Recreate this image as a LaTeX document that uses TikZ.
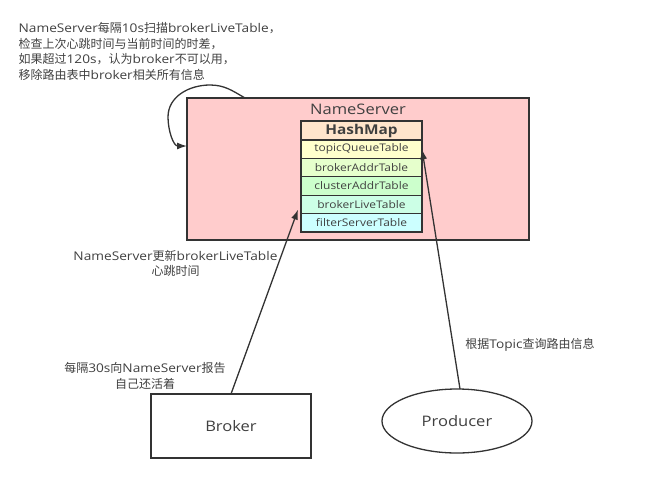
\documentclass[tikz,border=0pt]{standalone}
\usepackage{fontspec}
\setmainfont[FakeStretch=1.14]{Open Sans}
\newfontfamily\cjk{Noto Sans CJK SC}
\usetikzlibrary{positioning,shapes.geometric,arrows.meta}

\definecolor{nsfill}{RGB}{255,204,204}
\definecolor{hmfill}{RGB}{255,229,204}
\definecolor{tqfill}{RGB}{255,255,204}
\definecolor{bafill}{RGB}{230,255,204}
\definecolor{cafill}{RGB}{204,255,204}
\definecolor{blfill}{RGB}{204,255,230}
\definecolor{fsfill}{RGB}{204,255,255}
\definecolor{edgegray}{RGB}{51,51,51}
\definecolor{textgray}{RGB}{64,64,64}

\begin{document}
\begin{tikzpicture}[x=1pt,y=-1pt,line width=1.3pt,>={Latex[length=10pt,width=7pt]},
    box/.style={draw=edgegray,outer sep=0pt,inner sep=0pt},
    tablerow/.style={box,minimum width=121pt,minimum height=18.4pt,text=textgray,font=\fontsize{10.5}{12}\selectfont},
    note/.style={text=textgray,font=\fontsize{12}{15.5}\selectfont,inner sep=0pt}]
    \useasboundingbox (0,0) rectangle (659,483);

    % the name server and its hash map
    \node[box,fill=nsfill,minimum width=342pt,minimum height=142pt] (ns) at (358,169) {};
    \node[text=textgray,font=\fontsize{14.5}{18}\selectfont,below=2pt of ns.north] (nstitle) {NameServer};
    \node[box,fill=hmfill,minimum width=121pt,minimum height=19pt,text=textgray,
          font=\fontsize{13.5}{16}\selectfont\bfseries] (hm) at (361.5,130.5) {HashMap};
    \foreach \row/\col [remember=\row as \prev (initially hm)] in {
        topicQueueTable/tqfill,
        brokerAddrTable/bafill,
        clusterAddrTable/cafill,
        brokerLiveTable/blfill,
        filterServerTable/fsfill}
            \node[tablerow,fill=\col,below=0pt of \prev] (\row) {\row};

    % broker and producer
    \node[box,minimum width=160pt,minimum height=64pt,text=textgray,
          font=\fontsize{14.5}{18}\selectfont] (broker) at (231,426) {Broker};
    \node[box,ellipse,minimum width=150pt,minimum height=64pt,text=textgray,
          font=\fontsize{14.5}{18}\selectfont] (producer) at (457,421) {Producer};

    % the arrows
    \draw[->,edgegray] (broker.north) -- ([xshift=-3pt,yshift=4pt]brokerLiveTable.south west);
    \draw[->,edgegray] ([xshift=3pt]producer.north) -- (topicQueueTable.east);
    \draw[->,edgegray] ([xshift=58pt]ns.north west) to[out=150,in=0] (210,85)
        to[out=180,in=90] (168,117) to[out=-90,in=180] ([yshift=-48pt]ns.north west);

    % the notes
    \node[note,anchor=north west,align=left] (scan) at (18,22) {NameServer{\cjk 每隔}10s{\cjk 扫描}brokerLiveTable{\cjk ，}\\
        {\cjk 检查上次心跳时间与当前时间的时差，}\\
        {\cjk 如果超过}120s{\cjk ，认为}broker{\cjk 不可以用，}\\
        {\cjk 移除路由表中}broker{\cjk 相关所有信息}};
    \node[note,align=center] (update) at (175.5,263.5) {NameServer{\cjk 更新}brokerLiveTable\\{\cjk 心跳时间}};
    \node[note,align=center] (report) at (145,376) {{\cjk 每隔}30s{\cjk 向}NameServer{\cjk 报告}\\{\cjk 自己还活着}};
    \node[note] (query) at (530,345) {{\cjk 根据}Topic{\cjk 查询路由信息}};
\end{tikzpicture}
\end{document}
